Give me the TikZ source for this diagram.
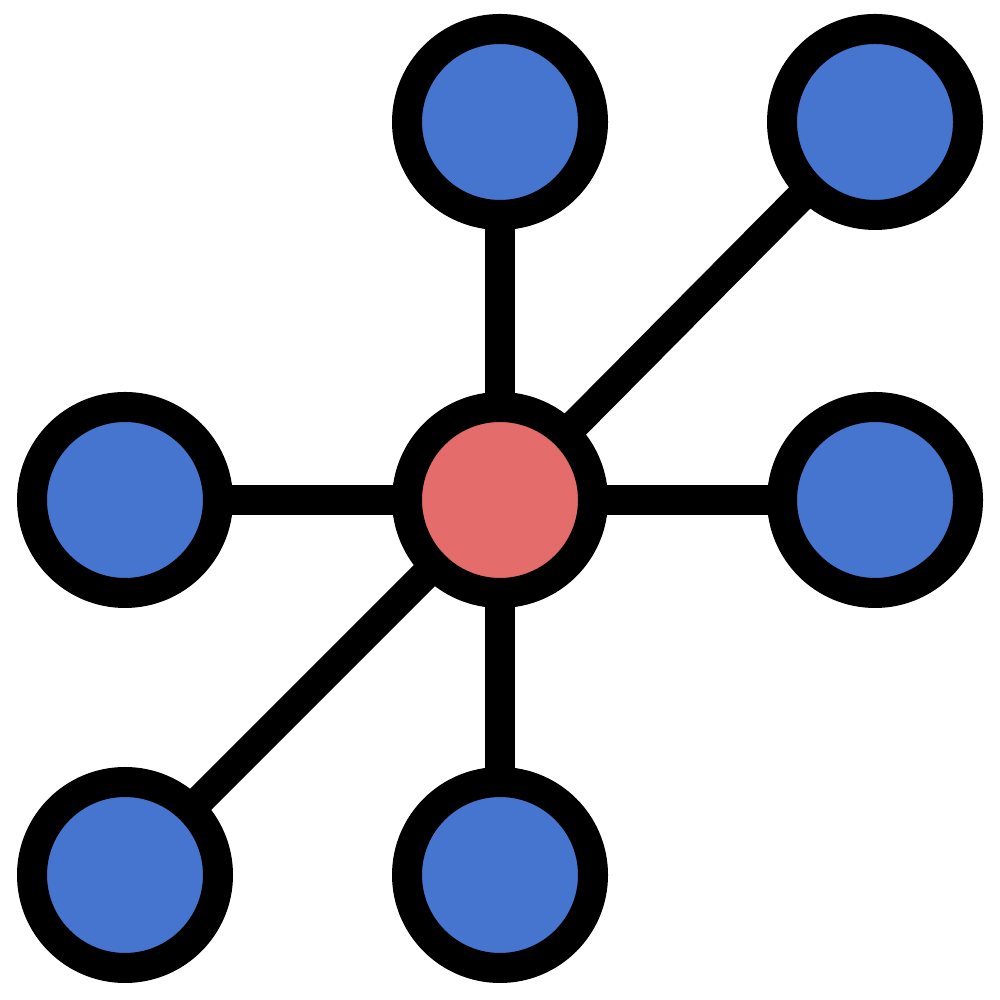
\documentclass[tikz,border=0pt]{standalone}
\definecolor{hubred}{RGB}{228,108,106}
\definecolor{leafblue}{RGB}{70,117,208}
\begin{document}
\begin{tikzpicture}[
        hub/.style={circle, draw=black, fill=hubred, line width=0.3cm, minimum size=1.86cm, inner sep=0pt, outer sep=0pt},
        leaf/.style={circle, draw=black, fill=leafblue, line width=0.3cm, minimum size=1.86cm, inner sep=0pt, outer sep=0pt},
        link/.style={line width=0.3cm, black}
    ]
                \useasboundingbox (0,0) rectangle (10,10);
                \node[hub] (center) at (5,5) {};
                \node[leaf] (top) at (5,8.78) {};
                \node[leaf] (topright) at (8.75,8.78) {};
                \node[leaf] (left) at (1.25,5) {};
                \node[leaf] (right) at (8.75,5) {};
                \node[leaf] (botleft) at (1.25,1.25) {};
                \node[leaf] (bottom) at (5,1.25) {};

                \draw[link] (center) -- (top);
                \draw[link] (center) -- (topright);
                \draw[link] (center) -- (left);
                \draw[link] (center) -- (right);
                \draw[link] (center) -- (botleft);
                \draw[link] (center) -- (bottom);
            \end{tikzpicture}
\end{document}
